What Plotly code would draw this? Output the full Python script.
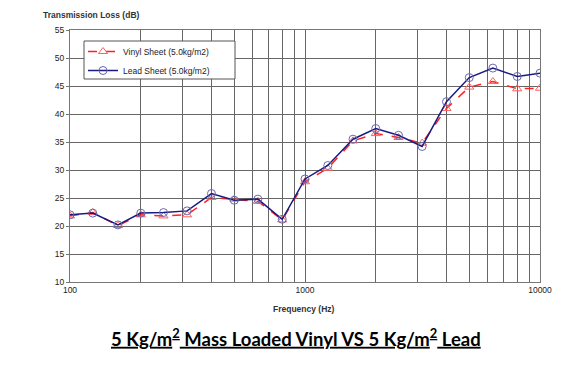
import plotly.graph_objects as go

freq = [100, 125, 160, 200, 250, 315, 400, 500, 630, 800, 1000,
        1250, 1600, 2000, 2500, 3150, 4000, 5000, 6300, 8000, 10000]
vinyl = [21.8, 22.4, 20.1, 22.0, 21.8, 22.0, 25.1, 24.8, 24.4, 21.1, 27.9,
         30.3, 35.2, 36.5, 35.8, 34.8, 41.0, 44.8, 45.8, 44.5, 44.6]
lead = [22.0, 22.3, 20.2, 22.3, 22.4, 22.7, 25.8, 24.6, 24.8, 21.2, 28.4,
        30.8, 35.5, 37.4, 36.2, 34.2, 42.2, 46.5, 48.2, 46.7, 47.3]

grid_x = [100, 200, 300, 400, 500, 600, 700, 800, 900,
          1000, 2000, 3000, 4000, 5000, 6000, 7000, 8000, 9000, 10000]
grid_x_text = ["100", "", "", "", "", "", "", "", "",
               "1000", "", "", "", "", "", "", "", "", "10000"]
y_ticks = [10, 15, 20, 25, 30, 35, 40, 45, 50, 55]

fig = go.Figure()
fig.add_trace(go.Scatter(
    x=freq, y=vinyl, name="Vinyl Sheet (5.0kg/m2)", mode="lines+markers",
    line=dict(color="#ff2020", width=1.5, dash="dash"),
    marker=dict(symbol="triangle-up-open", size=8, color="#ff6060", line=dict(width=1))))
fig.add_trace(go.Scatter(
    x=freq, y=lead, name="Lead Sheet (5.0kg/m2)", mode="lines+markers",
    line=dict(color="#1a1a80", width=1.5),
    marker=dict(symbol="circle-open", size=8, color="#6868b0", line=dict(width=1))))

# page body has an 8px offset, so margins are shifted to compensate
fig.update_layout(
    width=580, height=367,
    margin=dict(l=62, r=48, t=22, b=93),
    paper_bgcolor="white", plot_bgcolor="white",
    font=dict(family="Liberation Sans, Arial", size=8, color="#222"),
    legend=dict(x=(83-70)/470, y=(282-37)/252, xanchor="left", yanchor="top",
                borderwidth=0, bgcolor="rgba(0,0,0,0)",
                font=dict(size=8.5), itemwidth=30, tracegroupgap=0),
    showlegend=True,
)
# legend frame
fig.add_shape(type="rect", xref="paper", yref="paper",
              x0=(84-70)/470, x1=(235-70)/470, y0=(282-79)/252, y1=(282-41)/252,
              line=dict(color="#555", width=1), fillcolor="white", layer="above")

fig.update_xaxes(type="log", range=[2, 4], tickvals=grid_x, ticktext=grid_x_text,
                 showgrid=True, gridcolor="#666", gridwidth=1,
                 showline=True, linecolor="#777", linewidth=1, mirror=True,
                 ticks="", tickfont=dict(size=8.5), zeroline=False)
fig.update_yaxes(range=[10, 55], tickvals=y_ticks, showgrid=True, gridcolor="#666",
                 gridwidth=1, showline=True, linecolor="#777", linewidth=1, mirror=True,
                 ticks="outside", ticklen=3, tickcolor="#777", tickfont=dict(size=8.5),
                 zeroline=False)

fig.add_annotation(text="<b>Transmission Loss (dB)</b>", xref="paper", yref="paper",
                   x=-29/470, y=(282-15)/252, xanchor="left", yanchor="middle",
                   showarrow=False, font=dict(size=8.5, color="#333"))
fig.add_annotation(text="<b>Frequency (Hz)</b>", xref="paper", yref="paper",
                   x=(304-70)/470, y=(282-309)/252, xanchor="center", yanchor="middle",
                   showarrow=False, font=dict(size=8.5, color="#333"))
fig.add_annotation(text="<b><u>5 Kg/m<sup>2</sup> Mass Loaded Vinyl VS 5 Kg/m<sup>2</sup> Lead</u></b>",
                   xref="paper", yref="paper",
                   x=(296-70)/470, y=(282-337)/252, xanchor="center", yanchor="middle",
                   showarrow=False, font=dict(size=18.5, color="black", family="Lato, Open Sans"))

fig.write_html("out.html")
